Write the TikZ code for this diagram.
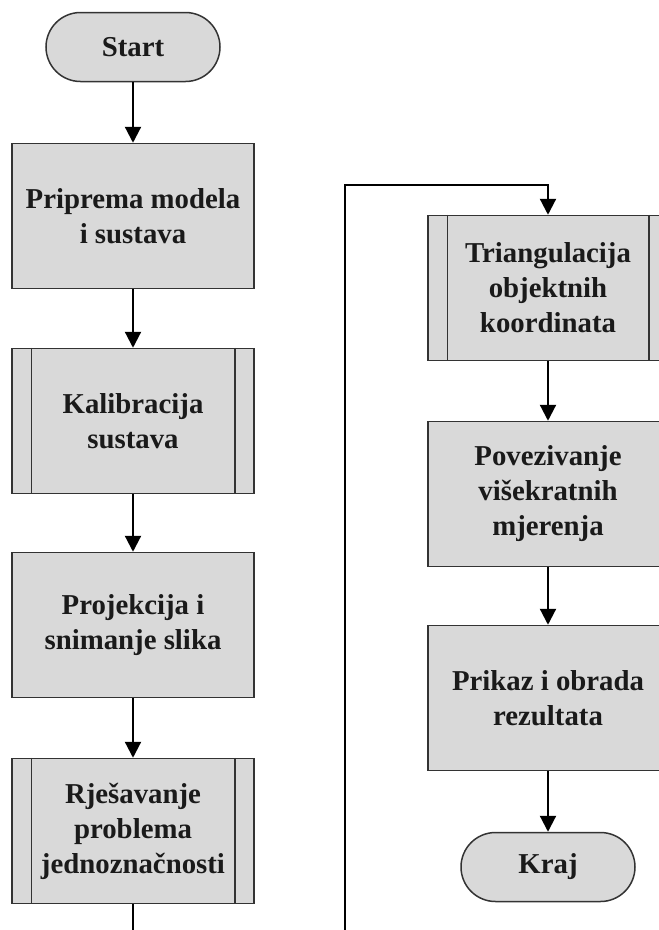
\documentclass[tikz,border=0pt]{standalone}
\usepackage{fontspec}
\setmainfont{Liberation Serif}
\usetikzlibrary{arrows.meta}
\definecolor{boxfill}{HTML}{D9D9D9}
\definecolor{boxline}{HTML}{333333}
\definecolor{txt}{HTML}{1A1A1A}
\tikzset{
  proc/.style={draw=boxline, line width=1.5pt, fill=boxfill, minimum width=242pt, minimum height=145pt, inner sep=0pt, align=center, text=txt, font=\bfseries\fontsize{28.8}{35}\selectfont},
  term/.style={draw=boxline, line width=1.5pt, fill=boxfill, minimum width=174pt, minimum height=69pt, rounded corners=34.5pt, inner sep=0pt, align=center, text=txt, font=\bfseries\fontsize{28.8}{35}\selectfont},
  conn/.style={draw=black, line width=2.2pt, -{Triangle[length=16pt,width=16pt]}},
  plain/.style={draw=black, line width=2.2pt},
  sideline/.style={draw=boxline, line width=1.5pt}
}
\begin{document}
\begin{tikzpicture}[x=1pt,y=-1pt]
\useasboundingbox (0,0) rectangle (659,930);
\clip (0,0) rectangle (659,930);
\fill[white] (0,0) rectangle (659,930);
% left column
\node[term] (start) at (133,47) {Start};
\node[proc] (prip) at (133,216) {Priprema modela\\i sustava};
\node[proc] (kal) at (133,421) {Kalibracija\\sustava};
\node[proc] (proj) at (133,625) {Projekcija i\\snimanje slika};
\node[proc] (rjes) at (133,831) {Rješavanje\\problema\\jednoznačnosti};
% right column
\node[proc, minimum width=240pt] (tri) at (548,288) {Triangulacija\\objektnih\\koordinata};
\node[proc, minimum width=240pt] (pov) at (548,494) {Povezivanje\\višekratnih\\mjerenja};
\node[proc, minimum width=240pt] (pri) at (548,698) {Prikaz i obrada\\rezultata};
\node[term] (kraj) at (548,867) {Kraj};
% predefined-process side lines
\foreach \n in {kal,rjes,tri}{
  \draw[sideline] ([xshift=20pt]\n.north west) -- ([xshift=20pt]\n.south west);
  \draw[sideline] ([xshift=-20pt]\n.north east) -- ([xshift=-20pt]\n.south east);
}
% connectors
\draw[conn] (start) -- (prip);
\draw[conn] (prip) -- (kal);
\draw[conn] (kal) -- (proj);
\draw[conn] (proj) -- (rjes);
\coordinate (lb) at (133,931);
\draw[plain] (rjes) -- (lb);
\coordinate (cb) at (345,931);
\coordinate (ct) at (345,185);
\coordinate (rt) at (548,185);
\draw[conn] (cb) -- (ct) -- (rt) -- (tri);
\draw[conn] (tri) -- (pov);
\draw[conn] (pov) -- (pri);
\draw[conn] (pri) -- (kraj);
\end{tikzpicture}
\end{document}
